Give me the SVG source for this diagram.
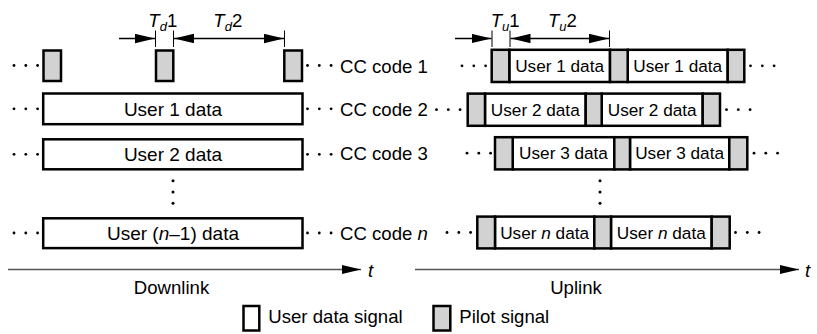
<svg xmlns="http://www.w3.org/2000/svg" xmlns:xlink="http://www.w3.org/1999/xlink" width="817" height="334" viewBox="0 0 817 334">
<style>
text{font-family:"Liberation Sans",Arial,sans-serif;fill:#000}
.lbl{font-size:18.6px}
.dl{font-size:19px;text-anchor:middle}
.ul{font-size:17.2px;text-anchor:middle}
.pilot{fill:#d2d2d2;stroke:#000;stroke-width:2.5}
.data{fill:#fff;stroke:#000;stroke-width:2.5}
.dim{stroke:#000;stroke-width:1.3;fill:none}
.tick{stroke:#000;stroke-width:1}
.axis{stroke:#555;stroke-width:1.6;fill:none}
.it{font-style:italic}
.sub{font-size:13px;font-style:italic}
</style>
<defs>
<marker id="ah" markerUnits="userSpaceOnUse" markerWidth="20" markerHeight="10" refX="20" refY="4.7" orient="auto-start-reverse">
<path d="M0,0 L20,4.7 L0,9.4 z" fill="#000"/>
</marker>
<marker id="axh" markerUnits="userSpaceOnUse" markerWidth="20" markerHeight="10" refX="19" refY="4.5" orient="auto">
<path d="M0,0 L19,4.5 L0,9 z" fill="#000"/>
</marker>
<g id="dots"><circle cx="0" cy="0" r="1.4"/><circle cx="11.8" cy="0" r="1.4"/><circle cx="23.6" cy="0" r="1.4"/></g>
<g id="vdots"><circle cx="0" cy="0" r="1.5"/><circle cx="0" cy="11.2" r="1.5"/><circle cx="0" cy="22.6" r="1.5"/></g>
</defs>
<rect width="817" height="334" fill="#fff"/>

<!-- Downlink -->
<g id="dl-row1">
<use xlink:href="#dots" x="14" y="65.5"/>
<rect class="pilot" x="43.5" y="50.5" width="17.5" height="30.5"/>
<rect class="pilot" x="156" y="50.5" width="17.3" height="30.5"/>
<rect class="pilot" x="284.3" y="50.5" width="17.7" height="30.5"/>
<use xlink:href="#dots" x="307.5" y="65.5"/>
<text class="lbl" x="340" y="72.5">CC code 1</text>
</g>
<g id="dl-row2">
<use xlink:href="#dots" x="14" y="108.8"/>
<rect class="data" x="43.2" y="93.5" width="259.3" height="30.7"/>
<text class="dl" x="173" y="115.5">User 1 data</text>
<use xlink:href="#dots" x="307.5" y="108.8"/>
<text class="lbl" x="340" y="116">CC code 2</text>
</g>
<g id="dl-row3">
<use xlink:href="#dots" x="14" y="154.3"/>
<rect class="data" x="43.2" y="139.3" width="259.3" height="30"/>
<text class="dl" x="173" y="160.8">User 2 data</text>
<use xlink:href="#dots" x="307.5" y="154.3"/>
<text class="lbl" x="340" y="160">CC code 3</text>
</g>
<use xlink:href="#vdots" x="173" y="180.7"/>
<g id="dl-rown">
<use xlink:href="#dots" x="14" y="233"/>
<rect class="data" x="43.2" y="218.3" width="259.3" height="29.8"/>
<text class="dl" x="173" y="239.5">User (<tspan class="it">n</tspan>–1) data</text>
<use xlink:href="#dots" x="307.5" y="233"/>
<text class="lbl" x="340" y="240">CC code <tspan class="it">n</tspan></text>
</g>

<!-- Uplink -->
<g id="ul-row1">
<use xlink:href="#dots" x="462" y="65.8"/>
<rect class="data" x="509.3" y="49.8" width="100.7" height="32.2"/>
<rect class="data" x="627.7" y="49.8" width="100" height="32.2"/>
<rect class="pilot" x="491.7" y="49.8" width="17.6" height="32.2"/>
<rect class="pilot" x="610" y="49.8" width="17.7" height="32.2"/>
<rect class="pilot" x="727.7" y="49.8" width="16.6" height="32.2"/>
<text class="ul" x="559.6" y="71.8">User 1 data</text>
<text class="ul" x="677.7" y="71.8">User 1 data</text>
<use xlink:href="#dots" x="750.5" y="65.8"/>
</g>
<g id="ul-row2">
<use xlink:href="#dots" x="436.5" y="109.7"/>
<rect class="data" x="485" y="93.6" width="100.7" height="32.2"/>
<rect class="data" x="601.7" y="93.6" width="101" height="32.2"/>
<rect class="pilot" x="467.7" y="93.6" width="17.3" height="32.2"/>
<rect class="pilot" x="585.7" y="93.6" width="16" height="32.2"/>
<rect class="pilot" x="702.7" y="93.6" width="17.3" height="32.2"/>
<text class="ul" x="535.3" y="115.7">User 2 data</text>
<text class="ul" x="652.2" y="115.7">User 2 data</text>
<use xlink:href="#dots" x="726.5" y="109.7"/>
</g>
<g id="ul-row3">
<use xlink:href="#dots" x="467" y="153.2"/>
<rect class="data" x="512.7" y="137.2" width="101.6" height="32.2"/>
<rect class="data" x="630" y="137.2" width="99.3" height="32.2"/>
<rect class="pilot" x="495" y="137.2" width="17.7" height="32.2"/>
<rect class="pilot" x="614.3" y="137.2" width="15.7" height="32.2"/>
<rect class="pilot" x="729.3" y="137.2" width="18" height="32.2"/>
<text class="ul" x="563.5" y="159.2">User 3 data</text>
<text class="ul" x="679.6" y="159.2">User 3 data</text>
<use xlink:href="#dots" x="754" y="153.2"/>
</g>
<use xlink:href="#vdots" x="600" y="180.7"/>
<g id="ul-rown">
<use xlink:href="#dots" x="447" y="232.5"/>
<rect class="data" x="495" y="216.6" width="99.3" height="31.8"/>
<rect class="data" x="611" y="216.6" width="100.7" height="31.8"/>
<rect class="pilot" x="477.3" y="216.6" width="17.7" height="31.8"/>
<rect class="pilot" x="594.3" y="216.6" width="16.7" height="31.8"/>
<rect class="pilot" x="711.7" y="216.6" width="18" height="31.8"/>
<text class="ul" x="544.6" y="238.5">User <tspan class="it">n</tspan> data</text>
<text class="ul" x="661.3" y="238.5">User <tspan class="it">n</tspan> data</text>
<use xlink:href="#dots" x="735.5" y="232.5"/>
</g>

<!-- Dimension arrows and axes -->
<g id="connectors">
<line class="tick" x1="155.5" y1="30.5" x2="155.5" y2="47"/>
<line class="tick" x1="173.5" y1="30.5" x2="173.5" y2="47"/>
<line class="tick" x1="284.5" y1="30.5" x2="284.5" y2="47"/>
<line class="dim" x1="119" y1="38.5" x2="155" y2="38.5" marker-end="url(#ah)"/>
<line class="dim" x1="174" y1="38.5" x2="284" y2="38.5" marker-start="url(#ah)" marker-end="url(#ah)"/>
<line class="tick" x1="492" y1="30.5" x2="492" y2="47"/>
<line class="tick" x1="510" y1="30.5" x2="510" y2="47"/>
<line class="tick" x1="609.5" y1="30.5" x2="609.5" y2="47"/>
<line class="dim" x1="455" y1="38.5" x2="491.5" y2="38.5" marker-end="url(#ah)"/>
<line class="dim" x1="510.5" y1="38.5" x2="609" y2="38.5" marker-start="url(#ah)" marker-end="url(#ah)"/>
<line class="axis" x1="8" y1="269.5" x2="361" y2="269.5" marker-end="url(#axh)"/>
<line class="axis" x1="415" y1="269.5" x2="799" y2="269.5" marker-end="url(#axh)"/>
</g>

<g id="labels">
<text class="lbl" x="148.3" y="27"><tspan class="it">T</tspan><tspan class="sub" dy="4">d</tspan><tspan dy="-4">1</tspan></text>
<text class="lbl" x="213.3" y="27"><tspan class="it">T</tspan><tspan class="sub" dy="4">d</tspan><tspan dy="-4">2</tspan></text>
<text class="lbl" x="490.7" y="27"><tspan class="it">T</tspan><tspan class="sub" dy="4">u</tspan><tspan dy="-4">1</tspan></text>
<text class="lbl" x="548" y="27"><tspan class="it">T</tspan><tspan class="sub" dy="4">u</tspan><tspan dy="-4">2</tspan></text>
<text class="lbl it" x="368" y="277">t</text>
<text class="lbl it" x="805" y="277">t</text>
<text class="lbl" x="171.5" y="293.5" text-anchor="middle">Downlink</text>
<text class="lbl" x="576" y="293.5" text-anchor="middle">Uplink</text>
</g>

<g id="legend">
<rect class="data" x="243.5" y="306" width="15.8" height="24.5"/>
<text class="lbl" x="268.3" y="323.3">User data signal</text>
<rect class="pilot" x="433.5" y="306" width="16.8" height="24.5"/>
<text class="lbl" x="459.3" y="323.3">Pilot signal</text>
</g>
</svg>
